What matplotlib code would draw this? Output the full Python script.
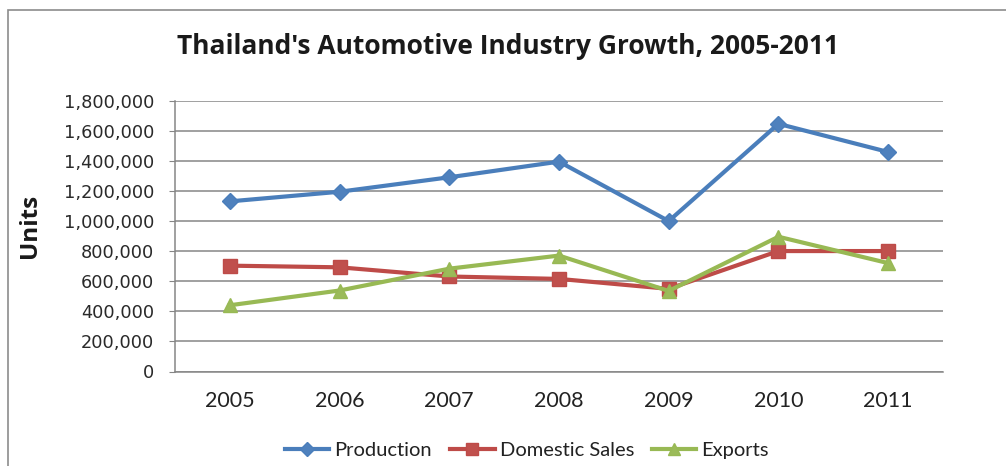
import matplotlib
matplotlib.use("Agg")
import matplotlib.pyplot as plt
from matplotlib.patches import Rectangle
from matplotlib.ticker import FuncFormatter

# Data.
years = ["2005", "2006", "2007", "2008", "2009", "2010", "2011"]
production = [1130000, 1194000, 1290000, 1394000, 999000, 1645000, 1458000]
domestic_sales = [703000, 692000, 631000, 615000, 549000, 800000, 800000]
exports = [440000, 538000, 683000, 770000, 535000, 895000, 720000]
series_labels = ["Production", "Domestic Sales", "Exports"]

plt.rcParams["font.family"] = ["Lato", "DejaVu Sans"]

W, H = 1006, 466
fig = plt.figure(figsize=(W / 100, H / 100), dpi=100)

# Outer chart border (runs past the image on the right and bottom).
fig.patches.append(Rectangle((7.5 / W, -0.1), 1.2, (H - 9.5) / H + 0.1,
                             transform=fig.transFigure, fill=False,
                             edgecolor="#8c8c8c", linewidth=1.2))

ax = fig.add_axes([175 / W, (H - 371.5) / H, (943 - 175) / W, (371.5 - 100.5) / H])

x = range(len(years))
ax.plot(x, production, color="#4a7ebb", linewidth=3, marker="D",
        markersize=8.5, markerfacecolor="#4f81bd", markeredgecolor="#4a7ebb",
        label=series_labels[0])
ax.plot(x, domestic_sales, color="#be4b48", linewidth=3, marker="s",
        markersize=9.5, markerfacecolor="#c0504d", markeredgecolor="#be4b48",
        label=series_labels[1])
ax.plot(x, exports, color="#98b954", linewidth=3, marker="^",
        markersize=10, markerfacecolor="#9bbb59", markeredgecolor="#98b954",
        label=series_labels[2])

ax.set_xlim(-0.5, len(years) - 0.5)
ax.set_ylim(0, 1800000)
ax.set_yticks(range(0, 1800001, 200000))
ax.yaxis.set_major_formatter(FuncFormatter(lambda v, p: f"{int(v):,}"))
ax.set_xticks(list(x))
ax.set_xticklabels(years)

ax.grid(axis="y", color="#868686", linewidth=1.1)
ax.set_axisbelow(True)
for side in ["top", "right"]:
    ax.spines[side].set_visible(False)
for side in ["left", "bottom"]:
    ax.spines[side].set_color("#868686")
    ax.spines[side].set_linewidth(1.1)

ax.tick_params(axis="y", length=4, color="#868686", pad=11, labelsize=12.8,
               labelcolor="#2a2a2a", labelfontfamily="DejaVu Sans")
ax.tick_params(axis="x", length=0, pad=14, labelsize=15.5, labelcolor="#222222")

fig.text(30 / W, (H - 226) / H, "Units", rotation=90, ha="center", va="center",
         fontsize=17.5, fontweight="bold", color="#1a1a1a", family="Open Sans")
fig.text(508 / W, (H - 46) / H, "Thailand's Automotive Industry Growth, 2005-2011",
         ha="center", va="center", fontsize=19, fontweight="bold", color="#1a1a1a",
         family="Open Sans")

fig.legend(loc="center", bbox_to_anchor=(527 / W, (H - 450) / H), ncol=3,
           frameon=False, fontsize=14.5, handlelength=2.2, handletextpad=0.25,
           columnspacing=0.9, markerscale=0.85, labelcolor="#222222")

fig.savefig("out.png", dpi=100)
